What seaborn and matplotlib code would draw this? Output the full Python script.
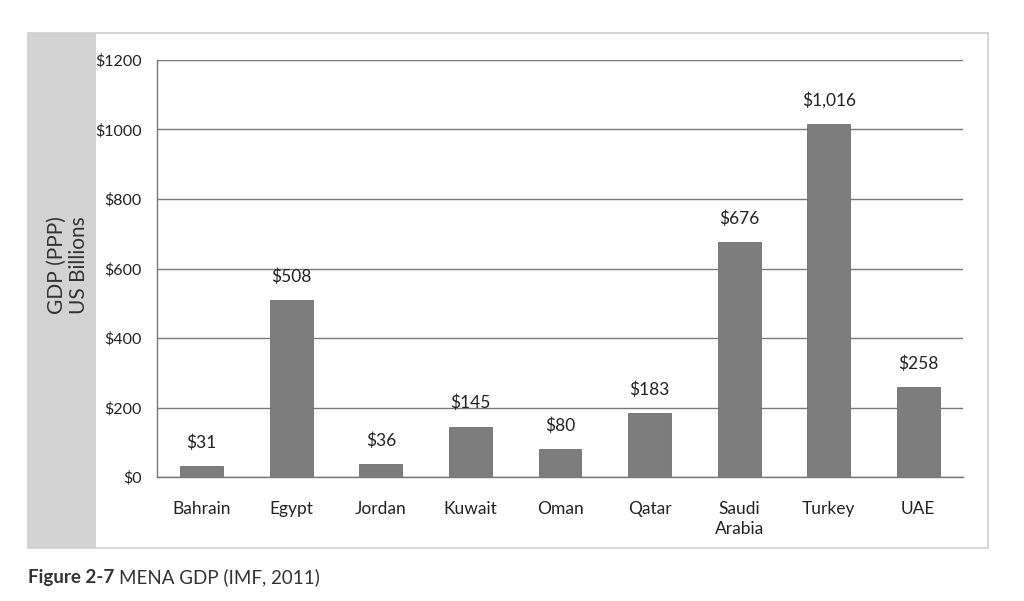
import matplotlib
matplotlib.use("Agg")
import matplotlib.pyplot as plt
import seaborn as sns
import pandas as pd
import numpy as np
from matplotlib.patches import Rectangle

countries = ["Bahrain", "Egypt", "Jordan", "Kuwait", "Oman", "Qatar", "Saudi\nArabia", "Turkey", "UAE"]
gdp = [31, 508, 36, 145, 80, 183, 676, 1016, 258]
value_labels = ["$31", "$508", "$36", "$145", "$80", "$183", "$676", "$1,016", "$258"]
yticks = [0, 200, 400, 600, 800, 1000, 1200]
ytick_labels = ["$0", "$200", "$400", "$600", "$800", "$1000", "$1200"]

sns.set_theme(style="white")
plt.rcParams['font.family'] = ['Lato', 'DejaVu Sans']

fig = plt.figure(figsize=(10.24, 6.01), dpi=100)
fig.patch.set_facecolor("white")

W, H = 1024, 601
# gray band and frame
fig.patches.append(Rectangle((28 / W, 1 - 548 / H), (96 - 28) / W, (548 - 33) / H,
                             transform=fig.transFigure, facecolor="#d3d3d3", edgecolor="none", zorder=0))
fig.patches.append(Rectangle((28 / W, 1 - 548 / H), (988 - 28) / W, (548 - 33) / H,
                             transform=fig.transFigure, facecolor="none", edgecolor="#cfcfcf", lw=1.2, zorder=0))

ax = fig.add_axes([157 / W, 1 - 477 / H, (963 - 157) / W, (477 - 60) / H])
ax.set_facecolor("none")

df = pd.DataFrame({"country": countries, "gdp": gdp})
sns.barplot(data=df, x="country", y="gdp", color="#7d7d7d", saturation=1, width=0.48, ax=ax, zorder=3)
for p in ax.patches:
    p.set_edgecolor("#6e6e6e")
    p.set_linewidth(0.6)

for i, (v, lab) in enumerate(zip(gdp, value_labels)):
    ax.annotate(lab, (i, v), xytext=(0, 11), textcoords="offset points",
                ha="center", va="bottom", fontsize=12.5, color="#222222")

ax.set_ylim(0, 1200)
ax.set_xlim(-0.5, len(countries) - 0.5)
ax.set_yticks(yticks)
ax.set_yticklabels(ytick_labels, fontsize=11.5, color="#222222")
ax.set_xticks(range(len(countries)))
ax.set_xticklabels(countries, fontsize=12.5, color="#222222", linespacing=1.35)
ax.tick_params(axis="x", which="major", length=0, pad=17)
ax.set_xticks(np.arange(-0.5, len(countries)), minor=True)
ax.tick_params(axis="x", which="minor", length=6, width=1, color="#777777", direction="out")
ax.tick_params(axis="y", which="major", length=6, width=1, color="#777777", direction="out", pad=5)
ax.yaxis.grid(True, color="#7a7a7a", lw=1)
ax.set_axisbelow(True)
for s in ["top", "right"]:
    ax.spines[s].set_visible(False)
for s in ["left", "bottom"]:
    ax.spines[s].set_color("#777777")
    ax.spines[s].set_linewidth(1)
ax.set_xlabel("")
ax.set_ylabel("")

fig.text(68 / W, 1 - 265 / H, "GDP (PPP)\nUS Billions", rotation=90, ha="center", va="center",
         fontsize=15, color="#333333", linespacing=1.15)

t1 = fig.text(28 / W, 1 - 583 / H, "Figure 2-7", fontweight="bold", fontsize=13.5, color="#333333", va="baseline")
fig.canvas.draw()
bb = t1.get_window_extent()
fig.text((bb.x1 + 5) / W, 1 - 583 / H, "MENA GDP (IMF, 2011)", fontsize=13.5, color="#333333", va="baseline")

fig.savefig("out.png", dpi=100)
